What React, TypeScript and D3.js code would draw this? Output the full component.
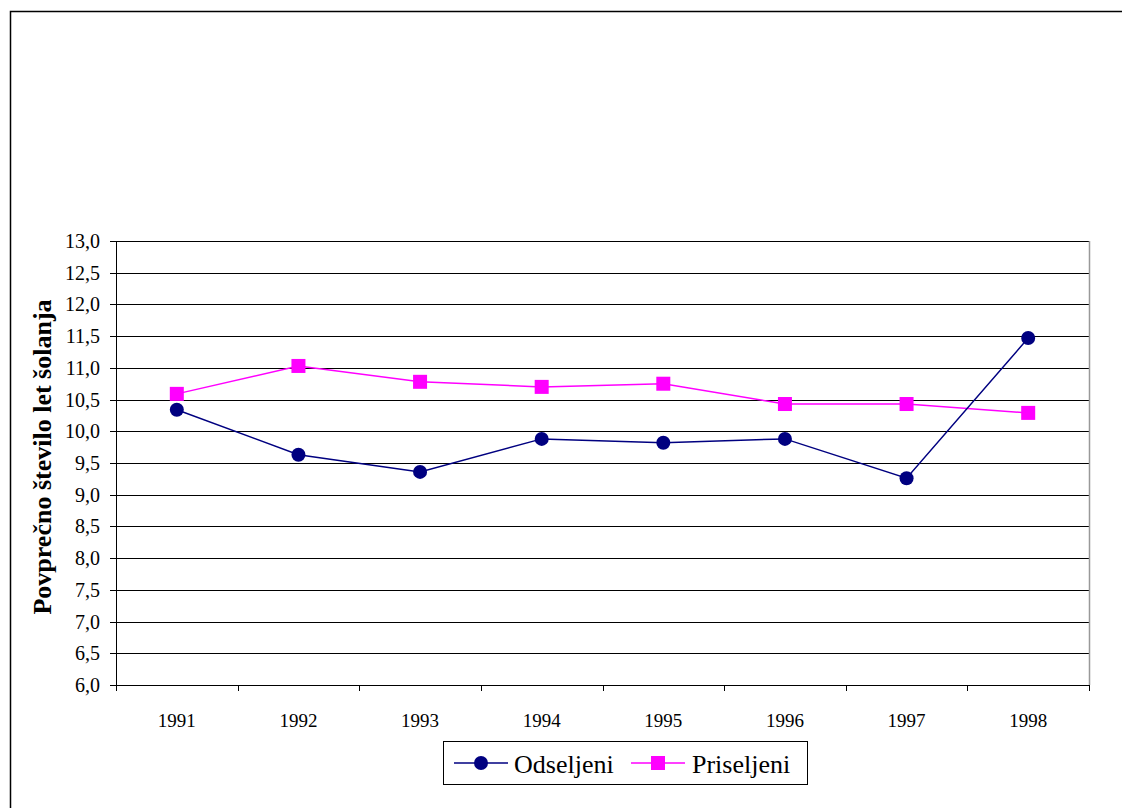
import React from "react";
import * as d3 from "d3";

const years = ["1991", "1992", "1993", "1994", "1995", "1996", "1997", "1998"];
const odseljeni = [10.34, 9.63, 9.36, 9.88, 9.82, 9.88, 9.26, 11.47];
const priseljeni = [10.59, 11.03, 10.78, 10.7, 10.75, 10.43, 10.43, 10.29];
const yTicks = [6, 6.5, 7, 7.5, 8, 8.5, 9, 9.5, 10, 10.5, 11, 11.5, 12, 12.5, 13];

export default function App() {
  const W = 1122, H = 808;
  const left = 116, right = 1089, top = 241, bottom = 685;
  const x = d3.scaleBand<string>().domain(years).range([left, right]).padding(0);
  const y = d3.scaleLinear().domain([6, 13]).range([bottom, top]);
  const cx = (d: string) => (x(d) as number) + x.bandwidth() / 2;
  const line = d3.line<number>().x((_, i) => cx(years[i])).y((v) => y(v));
  const fmt = (v: number) => v.toFixed(1).replace(".", ",");
  const serif = "Liberation Serif, Times New Roman, serif";
  const ts = { fontFamily: serif };
  const boundaries = years.map((d) => x(d) as number).concat([right]);

  return (
    <svg width={W} height={H} style={{ position: "absolute", left: 0, top: 0, background: "#fff", fontFamily: serif }}>
      <rect x={10.5} y={11.5} width={1300} height={1000} fill="none" stroke="#000" strokeWidth={1.5} />
      {yTicks.map((t) => (
        <line key={t} x1={left} x2={right} y1={Math.round(y(t)) + 0.5} y2={Math.round(y(t)) + 0.5} stroke="#000" strokeWidth={1} />
      ))}
      <line x1={right + 0.5} x2={right + 0.5} y1={top} y2={bottom} stroke="#999" strokeWidth={1.5} />
      <line x1={left + 0.5} x2={left + 0.5} y1={top} y2={bottom + 1} stroke="#000" strokeWidth={1} />
      <line x1={left} x2={right} y1={bottom + 0.5} y2={bottom + 0.5} stroke="#000" strokeWidth={1} />
      {yTicks.map((t) => (
        <g key={"yt" + t}>
          <line x1={left - 6} x2={left} y1={Math.round(y(t)) + 0.5} y2={Math.round(y(t)) + 0.5} stroke="#000" />
          <text x={left - 16} y={y(t)} dy="0.35em" textAnchor="end" fontSize={20} style={ts}>{fmt(t)}</text>
        </g>
      ))}
      {boundaries.map((b, i) => (
        <line key={"xt" + i} x1={Math.round(b) + 0.5} x2={Math.round(b) + 0.5} y1={bottom} y2={bottom + 6} stroke="#000" />
      ))}
      {years.map((d) => (
        <text key={"xl" + d} x={cx(d)} y={727} textAnchor="middle" fontSize={19} style={ts}>{d}</text>
      ))}
      <text transform={`translate(51,${457}) rotate(-90)`} textAnchor="middle" fontSize={26} fontWeight="bold" style={ts}>
        Povprečno število let šolanja
      </text>
      <path d={line(priseljeni) as string} fill="none" stroke="#ff00ff" strokeWidth={1.5} />
      <path d={line(odseljeni) as string} fill="none" stroke="#000080" strokeWidth={1.5} />
      {priseljeni.map((v, i) => (
        <rect key={"p" + i} x={cx(years[i]) - 7} y={y(v) - 7} width={14} height={14} fill="#ff00ff" />
      ))}
      {odseljeni.map((v, i) => (
        <circle key={"o" + i} cx={cx(years[i])} cy={y(v)} r={7} fill="#000080" />
      ))}
      <rect x={443.5} y={741.5} width={364} height={43} fill="#fff" stroke="#000" strokeWidth={1} />
      <line x1={454} x2={508} y1={763} y2={763} stroke="#000080" strokeWidth={1.5} />
      <circle cx={481} cy={763} r={7} fill="#000080" />
      <text x={514} y={773} fontSize={26} style={ts}>Odseljeni</text>
      <line x1={631} x2={685} y1={763} y2={763} stroke="#ff00ff" strokeWidth={1.5} />
      <rect x={651} y={756} width={14} height={14} fill="#ff00ff" />
      <text x={692} y={773} fontSize={26} style={ts}>Priseljeni</text>
    </svg>
  );
}
